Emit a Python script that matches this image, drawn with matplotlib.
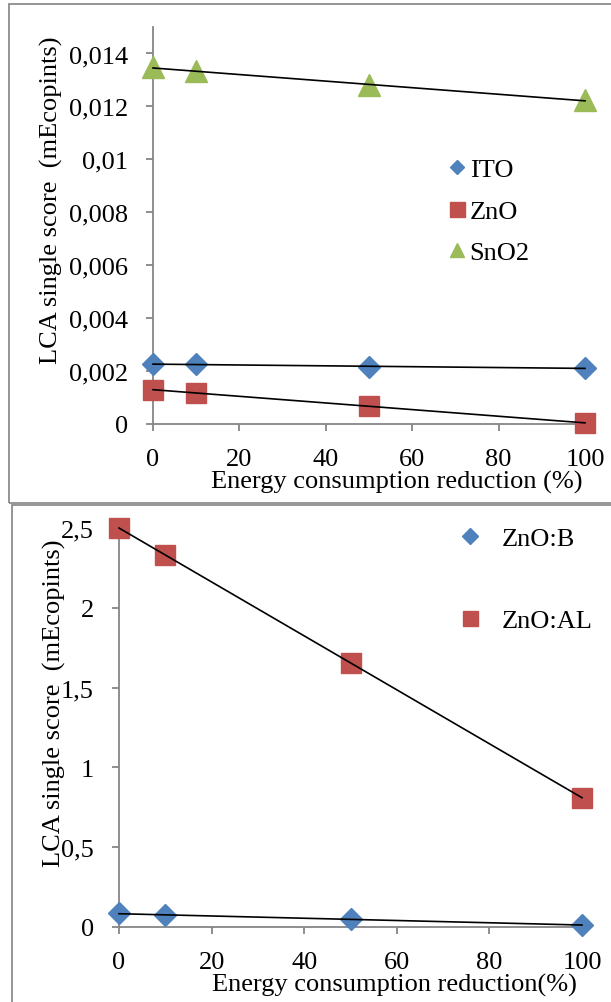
import matplotlib
matplotlib.use("Agg")
import matplotlib.pyplot as plt
import numpy as np
from matplotlib.lines import Line2D
from matplotlib.patches import Rectangle
from matplotlib.ticker import FuncFormatter, MultipleLocator

plt.rcParams["font.family"] = ["Liberation Serif", "DejaVu Serif"]
plt.rcParams["xtick.major.pad"] = 12
plt.rcParams["ytick.major.pad"] = 13

# energy consumption reduction (%)
reduction = [0, 10, 50, 100]

# top panel (mEcopints)
ito = [0.00226, 0.00226, 0.00216, 0.00211]
zno = [0.00128, 0.00119, 0.00067, 0.00004]
sno2 = [0.01347, 0.01333, 0.01279, 0.01223]

# bottom panel (mEcopints)
zno_b = [0.086, 0.073, 0.048, 0.0125]
zno_al = [2.50, 2.332, 1.653, 0.811]

BLUE = "#4F81BD"
RED = "#C0504D"
GREEN = "#9BBB59"
GRAY = "#868686"
FS = 19

W, H = 611, 1003


def fx(px):
    return px / W


def fy(py):
    return 1 - py / H


def comma_fmt(v, pos):
    s = "{:g}".format(round(v, 6))
    return s.replace(".", ",")


def style_axes(ax):
    for side in ["top", "right"]:
        ax.spines[side].set_visible(False)
    for side in ["left", "bottom"]:
        ax.spines[side].set_color(GRAY)
        ax.spines[side].set_linewidth(1.3)
    ax.tick_params(axis="both", direction="out", length=5, width=1.3,
                   color=GRAY, labelsize=FS)
    ax.xaxis.set_major_locator(MultipleLocator(20))
    ax.yaxis.set_major_formatter(FuncFormatter(comma_fmt))
    ax.set_xlim(0, 100)
    ax.patch.set_alpha(0)


def trend(ax, x, y):
    k, b = np.polyfit(x, y, 1)
    xs = np.array([0, 100])
    ax.plot(xs, k * xs + b, color="black", lw=1.2, zorder=5, clip_on=False)


fig = plt.figure(figsize=(W / 100, H / 100), dpi=100)

# outer frames
fig.patches.append(Rectangle((fx(9), fy(504)), 1, fy(5) - fy(504),
                             transform=fig.transFigure, fill=False,
                             edgecolor="#8c8c8c", lw=1.3))
fig.patches.append(Rectangle((fx(12), -0.1), 1, fy(506) + 0.1,
                             transform=fig.transFigure, fill=False,
                             edgecolor="#8c8c8c", lw=1.3))

# ---- top panel ----
ax1 = fig.add_axes([fx(153), fy(425), fx(585) - fx(153), fy(28) - fy(425)])
style_axes(ax1)
ax1.set_ylim(0, 0.015)
ax1.set_yticks(np.arange(0, 0.0141, 0.002))
ax1.plot(reduction, ito, "D", color=BLUE, ms=11, mec=BLUE, clip_on=False, zorder=3)
ax1.plot(reduction, zno, "s", color=RED, ms=14, mec=RED, clip_on=False, zorder=3)
ax1.plot(reduction, sno2, "^", color=GREEN, ms=15.5, mec=GREEN, clip_on=False, zorder=3)
for ys in (ito, zno, sno2):
    trend(ax1, reduction, ys)

ax1.set_ylabel("LCA single score  (mEcopints)", fontsize=FS, va="center")
ax1.yaxis.set_label_coords(-0.234, 0.567)
ax1.set_xlabel("Energy consumption reduction (%)", fontsize=FS, va="center")
ax1.xaxis.set_label_coords(0.565, -0.144)

h1 = [Line2D([], [], ls="none", marker="D", color=BLUE, ms=7.6),
      Line2D([], [], ls="none", marker="s", color=RED, ms=10.8),
      Line2D([], [], ls="none", marker="^", color=GREEN, ms=9.5)]
ax1.legend(h1, ["ITO", "ZnO", "SnO2"], loc="upper left",
           bbox_to_anchor=(0.686, 0.670), frameon=False, fontsize=FS,
           handlelength=0.6, handletextpad=0.17, labelspacing=0.68,
           borderpad=0, borderaxespad=0)

# ---- bottom panel ----
ax2 = fig.add_axes([fx(119), fy(928), fx(582) - fx(119), fy(529) - fy(928)])
style_axes(ax2)
ax2.set_ylim(0, 2.5)
ax2.yaxis.set_major_locator(MultipleLocator(0.5))
ax2.plot(reduction, zno_b, "D", color=BLUE, ms=10.9, mec=BLUE, clip_on=False, zorder=3)
ax2.plot(reduction, zno_al, "s", color=RED, ms=15, mec=RED, clip_on=False, zorder=3)
for ys in (zno_b, zno_al):
    trend(ax2, reduction, ys)

ax2.set_ylabel("LCA single score  (mEcopints)", fontsize=FS, va="center")
ax2.yaxis.set_label_coords(-0.139, 0.564)
ax2.set_xlabel("Energy consumption reduction(%)", fontsize=FS, va="center")
ax2.xaxis.set_label_coords(0.595, -0.143)

h2 = [Line2D([], [], ls="none", marker="D", color=BLUE, ms=8),
      Line2D([], [], ls="none", marker="s", color=RED, ms=10.8)]
ax2.legend(h2, ["ZnO:B", "ZnO:AL"], loc="upper left",
           bbox_to_anchor=(0.741, 1.003), frameon=False, fontsize=FS,
           handlelength=0.6, handletextpad=0.91, labelspacing=2.2,
           borderpad=0, borderaxespad=0)

fig.savefig("out.png", dpi=100)
